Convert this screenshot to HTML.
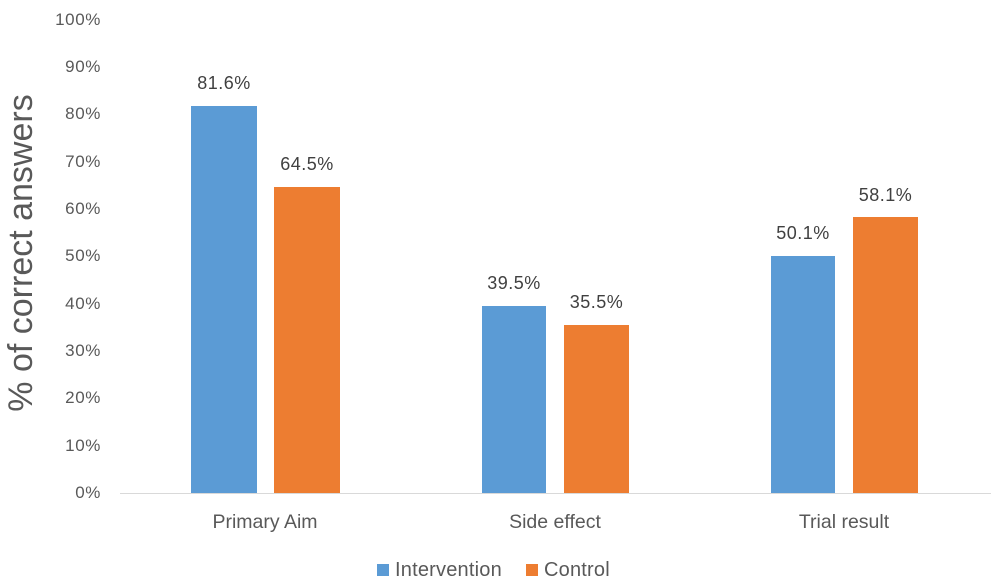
<!DOCTYPE html>
<html><head><meta charset="utf-8"><style>
html,body{margin:0;padding:0;background:#fff;}
svg{display:block;}
text{font-family:"Liberation Sans",Arial,sans-serif;}
</style></head><body>
<svg width="1000" height="585" viewBox="0 0 1000 585" xmlns="http://www.w3.org/2000/svg">
<rect width="1000" height="585" fill="#fff"/>
<!-- y tick labels -->
<g fill="#595959" font-size="17" text-anchor="end" letter-spacing="0.6">
<text x="101" y="25">100%</text>
<text x="101" y="72">90%</text>
<text x="101" y="119">80%</text>
<text x="101" y="167">70%</text>
<text x="101" y="214">60%</text>
<text x="101" y="261">50%</text>
<text x="101" y="309">40%</text>
<text x="101" y="356">30%</text>
<text x="101" y="403">20%</text>
<text x="101" y="451">10%</text>
<text x="101" y="498">0%</text>
</g>
<!-- y axis title -->
<text transform="translate(32,253) rotate(-90)" text-anchor="middle" fill="#595959" font-size="34">% of correct answers</text>
<!-- axis -->
<line x1="120" y1="493.5" x2="991" y2="493.5" stroke="#d9d9d9" stroke-width="1"/>
<!-- bars -->
<g fill="#5B9BD5">
<rect x="191" y="106" width="66" height="387"/>
<rect x="482" y="306" width="64" height="187"/>
<rect x="771" y="256" width="64" height="237"/>
</g>
<g fill="#ED7D31">
<rect x="274" y="187" width="66" height="306"/>
<rect x="564" y="325" width="65" height="168"/>
<rect x="853" y="217" width="65" height="276"/>
</g>
<!-- data labels -->
<g fill="#404040" font-size="18" text-anchor="middle" letter-spacing="0.5">
<text x="224" y="89">81.6%</text>
<text x="307" y="170">64.5%</text>
<text x="514" y="289">39.5%</text>
<text x="596.5" y="308">35.5%</text>
<text x="803" y="239">50.1%</text>
<text x="885.5" y="201">58.1%</text>
</g>
<!-- category labels -->
<g fill="#595959" font-size="19.5" text-anchor="middle">
<text x="265" y="528">Primary Aim</text>
<text x="555" y="528">Side effect</text>
<text x="844" y="528">Trial result</text>
</g>
<!-- legend -->
<rect x="377" y="564" width="12" height="12" fill="#5B9BD5"/>
<text x="395" y="576" fill="#595959" font-size="20" letter-spacing="0.2">Intervention</text>
<rect x="526" y="564" width="12" height="12" fill="#ED7D31"/>
<text x="544" y="576" fill="#595959" font-size="20" letter-spacing="0.2">Control</text>
</svg>
</body></html>
